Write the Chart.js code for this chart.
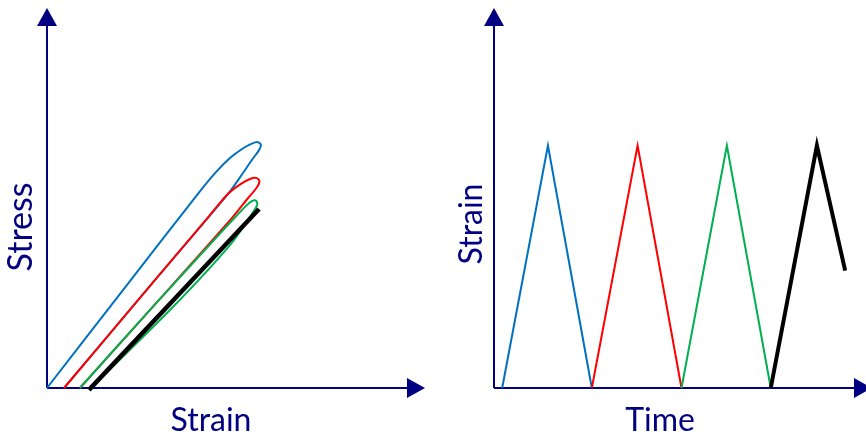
<!DOCTYPE html>
<html>
<head>
<meta charset="utf-8">
<script src="https://cdn.jsdelivr.net/npm/chart.js@4/dist/chart.umd.min.js"></script>
<style>
  html, body { margin: 0; padding: 0; background: #fff; overflow: hidden; }
  #wrap { position: relative; width: 866px; height: 444px; }
  canvas { position: absolute; top: 0; }
  #left { left: 0; }
  #right { left: 433px; }
</style>
</head>
<body>
<div id="wrap">
  <canvas id="left" width="433" height="444"></canvas>
  <canvas id="right" width="433" height="444"></canvas>
</div>
<script>
// Stress–strain loops (strain, stress), arbitrary units 0..100
const blueLoop = [[0, 0], [22.0, 28.2], [40.5, 51.8], [44.7, 56.8], [48.4, 60.5], [51.6, 62.9], [54.2, 64.3], [55.8, 64.7], [56.6, 63.9], [56.1, 62.6], [54.2, 60.0], [51.1, 55.5], [47.9, 51.1], [27.2, 26.8], [4.5, 0]];
const redLoop = [[4.5, 0], [27.2, 26.8], [43.1, 45.5], [47.9, 51.1], [51.1, 53.6], [53.7, 55.0], [55.3, 55.3], [56.2, 54.5], [55.6, 52.9], [53.2, 50.0], [48.9, 44.7], [27.2, 20.5], [8.7, 0]];
const greenLoop = [[8.7, 0], [27.2, 20.5], [47.1, 42.1], [50.3, 45.5], [52.6, 47.9], [54.2, 49.2], [55.3, 49.3], [55.6, 48.2], [54.2, 45.8], [48.4, 37.6], [33.1, 21.1], [11.1, -0.5]];
const blackLine = [[11.1, -0.5], [56.1, 47.1]];

// Strain vs time (time, strain), arbitrary units 0..100
const timeBlue = [[2.2, 0], [14.5, 63.8], [26.3, 0]];
const timeRed = [[26.3, 0], [38.6, 63.8], [50.4, 0]];
const timeGreen = [[50.4, 0], [62.6, 63.8], [74.4, 0]];
const timeBlack = [[74.4, 0], [86.8, 63.8], [94.4, 30.9]];

const leftTitles = { x: 'Strain', y: 'Stress' };
const rightTitles = { x: 'Time', y: 'Strain' };

const NAVY = '#000080';
const FONT = 'Lato, "Open Sans", sans-serif';

const pts = (arr) => arr.map(([x, y]) => ({ x, y }));
const ds = (data, color, width, order) => ({
  data: pts(data), borderColor: color, borderWidth: width, order,
  pointRadius: 0, showLine: true, fill: false, tension: 0.3,
  borderCapStyle: 'butt', borderJoinStyle: 'round', clip: false
});

// axes with arrow heads + axis titles, drawn from the scales
const axesPlugin = {
  id: 'arrowAxes',
  beforeDatasetsDraw(chart, args, o) {
    const { ctx, chartArea: a, scales: { x, y } } = chart;
    const x0 = x.getPixelForValue(0), y0 = y.getPixelForValue(0);
    ctx.save();
    ctx.strokeStyle = NAVY; ctx.fillStyle = NAVY; ctx.lineWidth = 2;
    ctx.beginPath();
    ctx.moveTo(x0, y0); ctx.lineTo(x0, a.top + 10);
    ctx.moveTo(x0, y0); ctx.lineTo(a.right + o.tipExtra - 10, y0);
    ctx.stroke();
    // up arrow
    ctx.beginPath();
    ctx.moveTo(x0, a.top); ctx.lineTo(x0 - 10, a.top + 18); ctx.lineTo(x0 + 10, a.top + 18); ctx.closePath(); ctx.fill();
    // right arrow
    const tip = a.right + o.tipExtra;
    ctx.beginPath();
    ctx.moveTo(tip, y0); ctx.lineTo(tip - 18, y0 - 10); ctx.lineTo(tip - 18, y0 + 10); ctx.closePath(); ctx.fill();
    ctx.restore();
  },
  afterDraw(chart, args, o) {
    const { ctx } = chart;
    ctx.save();
    ctx.fillStyle = NAVY; ctx.textAlign = 'center'; ctx.textBaseline = 'alphabetic';
    ctx.font = o.xSize + 'px ' + FONT;
    ctx.fillText(o.xText, o.xPos[0], o.xPos[1]);
    ctx.translate(o.yPos[0], o.yPos[1]);
    ctx.rotate(-Math.PI / 2);
    ctx.font = o.ySize + 'px ' + FONT;
    ctx.fillText(o.yText, 0, 0);
    ctx.restore();
  }
};

const baseOpts = (pad, titles, extra) => ({
  responsive: false,
  animation: false,
  layout: { padding: pad },
  scales: {
    x: { type: 'linear', min: 0, max: 100, display: false },
    y: { type: 'linear', min: 0, max: 100, display: false }
  },
  plugins: {
    legend: { display: false },
    tooltip: { enabled: false },
    arrowAxes: Object.assign({ xText: titles.x, yText: titles.y }, extra)
  }
});

new Chart(document.getElementById('left'), {
  type: 'scatter',
  data: {
    datasets: [
      ds(blueLoop, '#0070C0', 2, 4),
      ds(redLoop, '#FF0000', 2, 3),
      ds(greenLoop, '#00B050', 2, 2),
      ds(blackLine, '#000000', 4.5, 1)
    ]
  },
  options: baseOpts({ left: 47, top: 8, right: 8, bottom: 56 }, leftTitles,
    { tipExtra: 0, xSize: 32, ySize: 34, xPos: [211, 431], yPos: [32, 227] }),
  plugins: [axesPlugin]
});

new Chart(document.getElementById('right'), {
  type: 'scatter',
  data: {
    datasets: [
      ds(timeBlue, '#0070C0', 2, 4),
      ds(timeRed, '#FF0000', 2, 3),
      ds(timeGreen, '#00B050', 2, 2),
      ds(timeBlack, '#000000', 4, 1)
    ].map(d => Object.assign(d, { tension: 0, borderJoinStyle: 'miter' }))
  },
  options: baseOpts({ left: 61, top: 8, right: 0, bottom: 56 }, rightTitles,
    { tipExtra: 6, xSize: 32, ySize: 32, xPos: [227, 431], yPos: [49, 224] }),
  plugins: [axesPlugin]
});
</script>
</body>
</html>
